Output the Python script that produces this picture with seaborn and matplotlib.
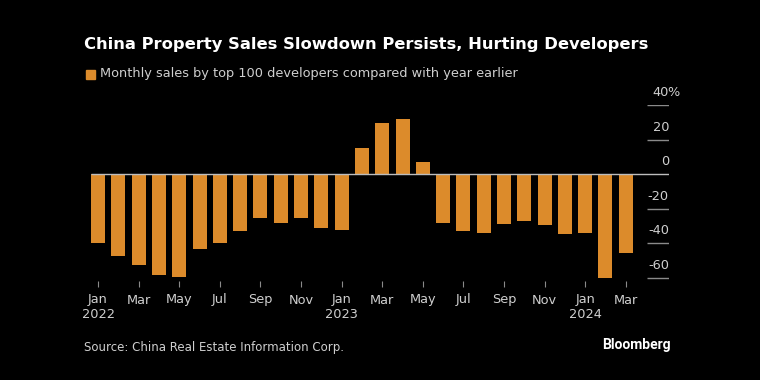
import pandas as pd
import seaborn as sns
import matplotlib.pyplot as plt

# monthly sales by top 100 developers, % change y/y
months = pd.date_range('2022-01-01', '2024-03-01', freq='MS')
sales_yoy = [-39.7, -47.3, -52.8, -58.6, -59.6, -43.2, -39.7, -32.9, -25.5, -28.4, -25.5, -31.0,
             -32.5, 15.1, 29.5, 31.9, 7.0, -28.2, -33.1, -33.9, -29.2, -27.5, -29.6, -34.5,
             -34.1, -60.2, -46.0]
y_ticks = [-60, -40, -20, 0, 20, 40]

df = pd.DataFrame({'month': months.strftime('%Y-%m'), 'yoy': sales_yoy})

bar_color = '#DC8B2B'
grid_color = '#8a8a8a'
text_color = '#cfcfcf'

sns.set_style('dark')
plt.rcParams['font.family'] = ['DejaVu Sans']

fig = plt.figure(figsize=(7.6, 3.8), dpi=100, facecolor='black')
ax = fig.add_axes([91 / 760, 1 - 281 / 380, (669 - 91) / 760, (281 - 105) / 380])
ax.set_facecolor('black')

sns.barplot(data=df, x='month', y='yoy', color=bar_color, width=0.69,
            saturation=1, linewidth=0, edgecolor='none', ax=ax, zorder=2)

n = len(df)
x_right = n - 1 + 2.13
ax.set_xlim(-0.35, x_right)
ax.set_ylim(-62, 40)

# short gridlines under the right-hand labels, full-width zero line
for t in y_ticks:
    if t == 0:
        ax.hlines(0, -0.35, x_right, color='#bdbdbd', lw=1, zorder=3)
    else:
        ax.hlines(t, n - 1 + 1.05, x_right, color=grid_color, lw=1, zorder=1)
    ax.annotate(f'{t}', xy=(x_right, t), xytext=(0, 4), textcoords='offset points',
                ha='right', va='bottom', color=text_color, fontsize=9.3)
ax.annotate('%', xy=(x_right, 40), xytext=(-1, 4), textcoords='offset points',
            ha='left', va='bottom', color=text_color, fontsize=9.3)

# x ticks every second month
tick_pos = list(range(0, n, 2))
tick_labels = []
for i in tick_pos:
    m = months[i]
    lab = m.strftime('%b')
    if m.month == 1:
        lab += '\n' + m.strftime('%Y')
    tick_labels.append(lab)
ax.set_xticks(tick_pos)
ax.set_xticklabels(tick_labels, color=text_color, fontsize=9.3, linespacing=1.15)
ax.tick_params(axis='x', length=4, width=0.8, color=grid_color, pad=5, bottom=True)
ax.set_yticks([])
ax.set_xlabel('')
ax.set_ylabel('')
for s in ax.spines.values():
    s.set_visible(False)
ax.grid(False)

fig.text(84 / 760, 1 - 45 / 380, 'China Property Sales Slowdown Persists, Hurting Developers',
         color='white', fontsize=11.75, fontweight='bold', va='center', ha='left')
fig.patches.append(plt.Rectangle((86 / 760, 1 - 79 / 380), 9 / 760, 9 / 380,
                                 transform=fig.transFigure, color=bar_color))
fig.text(100 / 760, 1 - 74 / 380, 'Monthly sales by top 100 developers compared with year earlier',
         color=text_color, fontsize=9.3, va='center', ha='left')
fig.text(84 / 760, 1 - 347 / 380, 'Source: China Real Estate Information Corp.',
         color=text_color, fontsize=8.5, va='center', ha='left')
fig.text(671 / 760, 1 - 345 / 380, 'Bloomberg', color='white', fontsize=10,
         fontweight='bold', family=['Roboto', 'DejaVu Sans'], va='center', ha='right')

fig.savefig('out.png', dpi=100, facecolor='black')
